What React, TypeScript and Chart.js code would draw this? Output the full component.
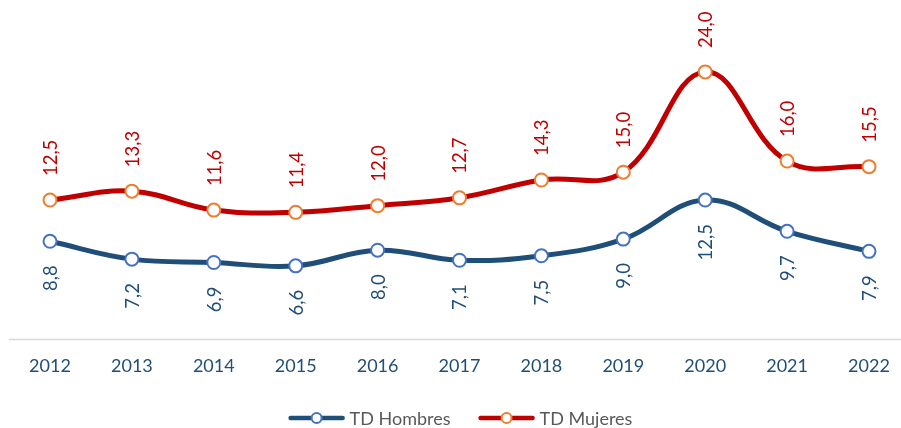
import React, { useEffect, useRef } from "react";
import { Chart, registerables } from "chart.js";

Chart.register(...registerables);

const years = ["2012", "2013", "2014", "2015", "2016", "2017", "2018", "2019", "2020", "2021", "2022"];
const hombres = [8.8, 7.2, 6.9, 6.6, 8.0, 7.1, 7.5, 9.0, 12.5, 9.7, 7.9];
const mujeres = [12.5, 13.3, 11.6, 11.4, 12.0, 12.7, 14.3, 15.0, 24.0, 16.0, 15.5];

const FONT = "Lato, 'Open Sans', sans-serif";
const fmt = (v: number) => v.toFixed(1).replace(".", ",");

const labelPlugin = {
  id: "rotLabels",
  afterDatasetsDraw(chart: any) {
    const ctx = chart.ctx;
    chart.data.datasets.forEach((ds: any, di: number) => {
      const meta = chart.getDatasetMeta(di);
      const above = ds.labelPos === "above";
      meta.data.forEach((pt: any, i: number) => {
        const v = ds.data[i];
        ctx.save();
        ctx.translate(pt.x, above ? pt.y - 24 : pt.y + 24);
        ctx.rotate(-Math.PI / 2);
        ctx.font = `18.5px ${FONT}`;
        ctx.fillStyle = ds.labelColor;
        ctx.textBaseline = "middle";
        ctx.textAlign = above ? "left" : "right";
        ctx.fillText(fmt(v), 0, 1);
        ctx.restore();
      });
    });
  },
};

const axisLinePlugin = {
  id: "axisLine",
  beforeDatasetsDraw(chart: any) {
    const ctx = chart.ctx;
    const y = chart.chartArea.bottom;
    ctx.save();
    ctx.strokeStyle = "#D9D9D9";
    ctx.lineWidth = 1.5;
    ctx.beginPath();
    ctx.moveTo(9, y);
    ctx.lineTo(chart.width, y);
    ctx.stroke();
    ctx.restore();
  },
};

const legendPlugin = {
  id: "customLegend",
  afterDraw(chart: any) {
    const ctx = chart.ctx;
    ctx.save();
    ctx.font = `18px ${FONT}`;
    const lineW = 56;
    const gapText = 5;
    const gapItems = 28;
    const items = chart.data.datasets.map((ds: any) => ({
      ds,
      w: lineW + gapText + ctx.measureText(ds.label).width,
    }));
    const total = items.reduce((s: number, it: any) => s + it.w, 0) + gapItems * (items.length - 1);
    let x = chart.width / 2 - total / 2 + 10;
    const y = 418;
    items.forEach((it: any) => {
      const ds = it.ds;
      ctx.strokeStyle = ds.borderColor;
      ctx.lineWidth = 4.5;
      ctx.lineCap = "round";
      ctx.beginPath();
      ctx.moveTo(x + 2, y);
      ctx.lineTo(x + lineW - 2, y);
      ctx.stroke();
      ctx.beginPath();
      ctx.arc(x + lineW / 2, y, 5, 0, Math.PI * 2);
      ctx.fillStyle = "#FFFFFF";
      ctx.fill();
      ctx.lineWidth = 2;
      ctx.strokeStyle = ds.pointBorderColor;
      ctx.stroke();
      ctx.fillStyle = "#595959";
      ctx.textBaseline = "middle";
      ctx.textAlign = "left";
      ctx.fillText(ds.label, x + lineW + gapText, y + 1);
      x += it.w + gapItems;
    });
    ctx.restore();
  },
};

export default function App() {
  const ref = useRef<HTMLCanvasElement | null>(null);
  useEffect(() => {
    if (!ref.current) return;
    const chart = new Chart(ref.current, {
      type: "line",
      data: {
        labels: years,
        datasets: [
          {
            label: "TD Hombres",
            data: hombres,
            borderColor: "#1F4E79",
            borderWidth: 5,
            tension: 0.4,
            pointRadius: 6.5,
            pointBorderWidth: 2,
            pointBackgroundColor: "#FFFFFF",
            pointBorderColor: "#4472C4",
            labelColor: "#1F4E79",
            labelPos: "below",
          } as any,
          {
            label: "TD Mujeres",
            data: mujeres,
            borderColor: "#C00000",
            borderWidth: 5,
            tension: 0.4,
            pointRadius: 6.5,
            pointBorderWidth: 2,
            pointBackgroundColor: "#FFFFFF",
            pointBorderColor: "#ED7D31",
            labelColor: "#C00000",
            labelPos: "above",
          } as any,
        ],
      },
      options: {
        animation: false,
        responsive: false,
        maintainAspectRatio: false,
        layout: { autoPadding: false, padding: { top: 5, left: 50, right: 32, bottom: 35 } },
        plugins: { legend: { display: false }, tooltip: { enabled: false } },
        scales: {
          x: {
            offset: false,
            grid: { display: false, drawTicks: false },
            border: { display: false },
            afterFit: (s: any) => {
              s.paddingLeft = 0;
              s.paddingRight = 0;
            },
            ticks: {
              padding: 16,
              color: "#1F4E79",
              font: { family: FONT, size: 18 },
              maxRotation: 0,
              autoSkip: false,
            },
          },
          y: {
            display: false,
            min: 0,
            max: 30,
          },
        },
      },
      plugins: [axisLinePlugin, labelPlugin, legendPlugin],
    });
    return () => chart.destroy();
  }, []);
  return (
    <div style={{ position: "fixed", left: 0, top: 0, width: 901, height: 428, background: "#fff" }}>
      <canvas ref={ref} width={901} height={428} style={{ width: 901, height: 428 }} />
    </div>
  );
}
